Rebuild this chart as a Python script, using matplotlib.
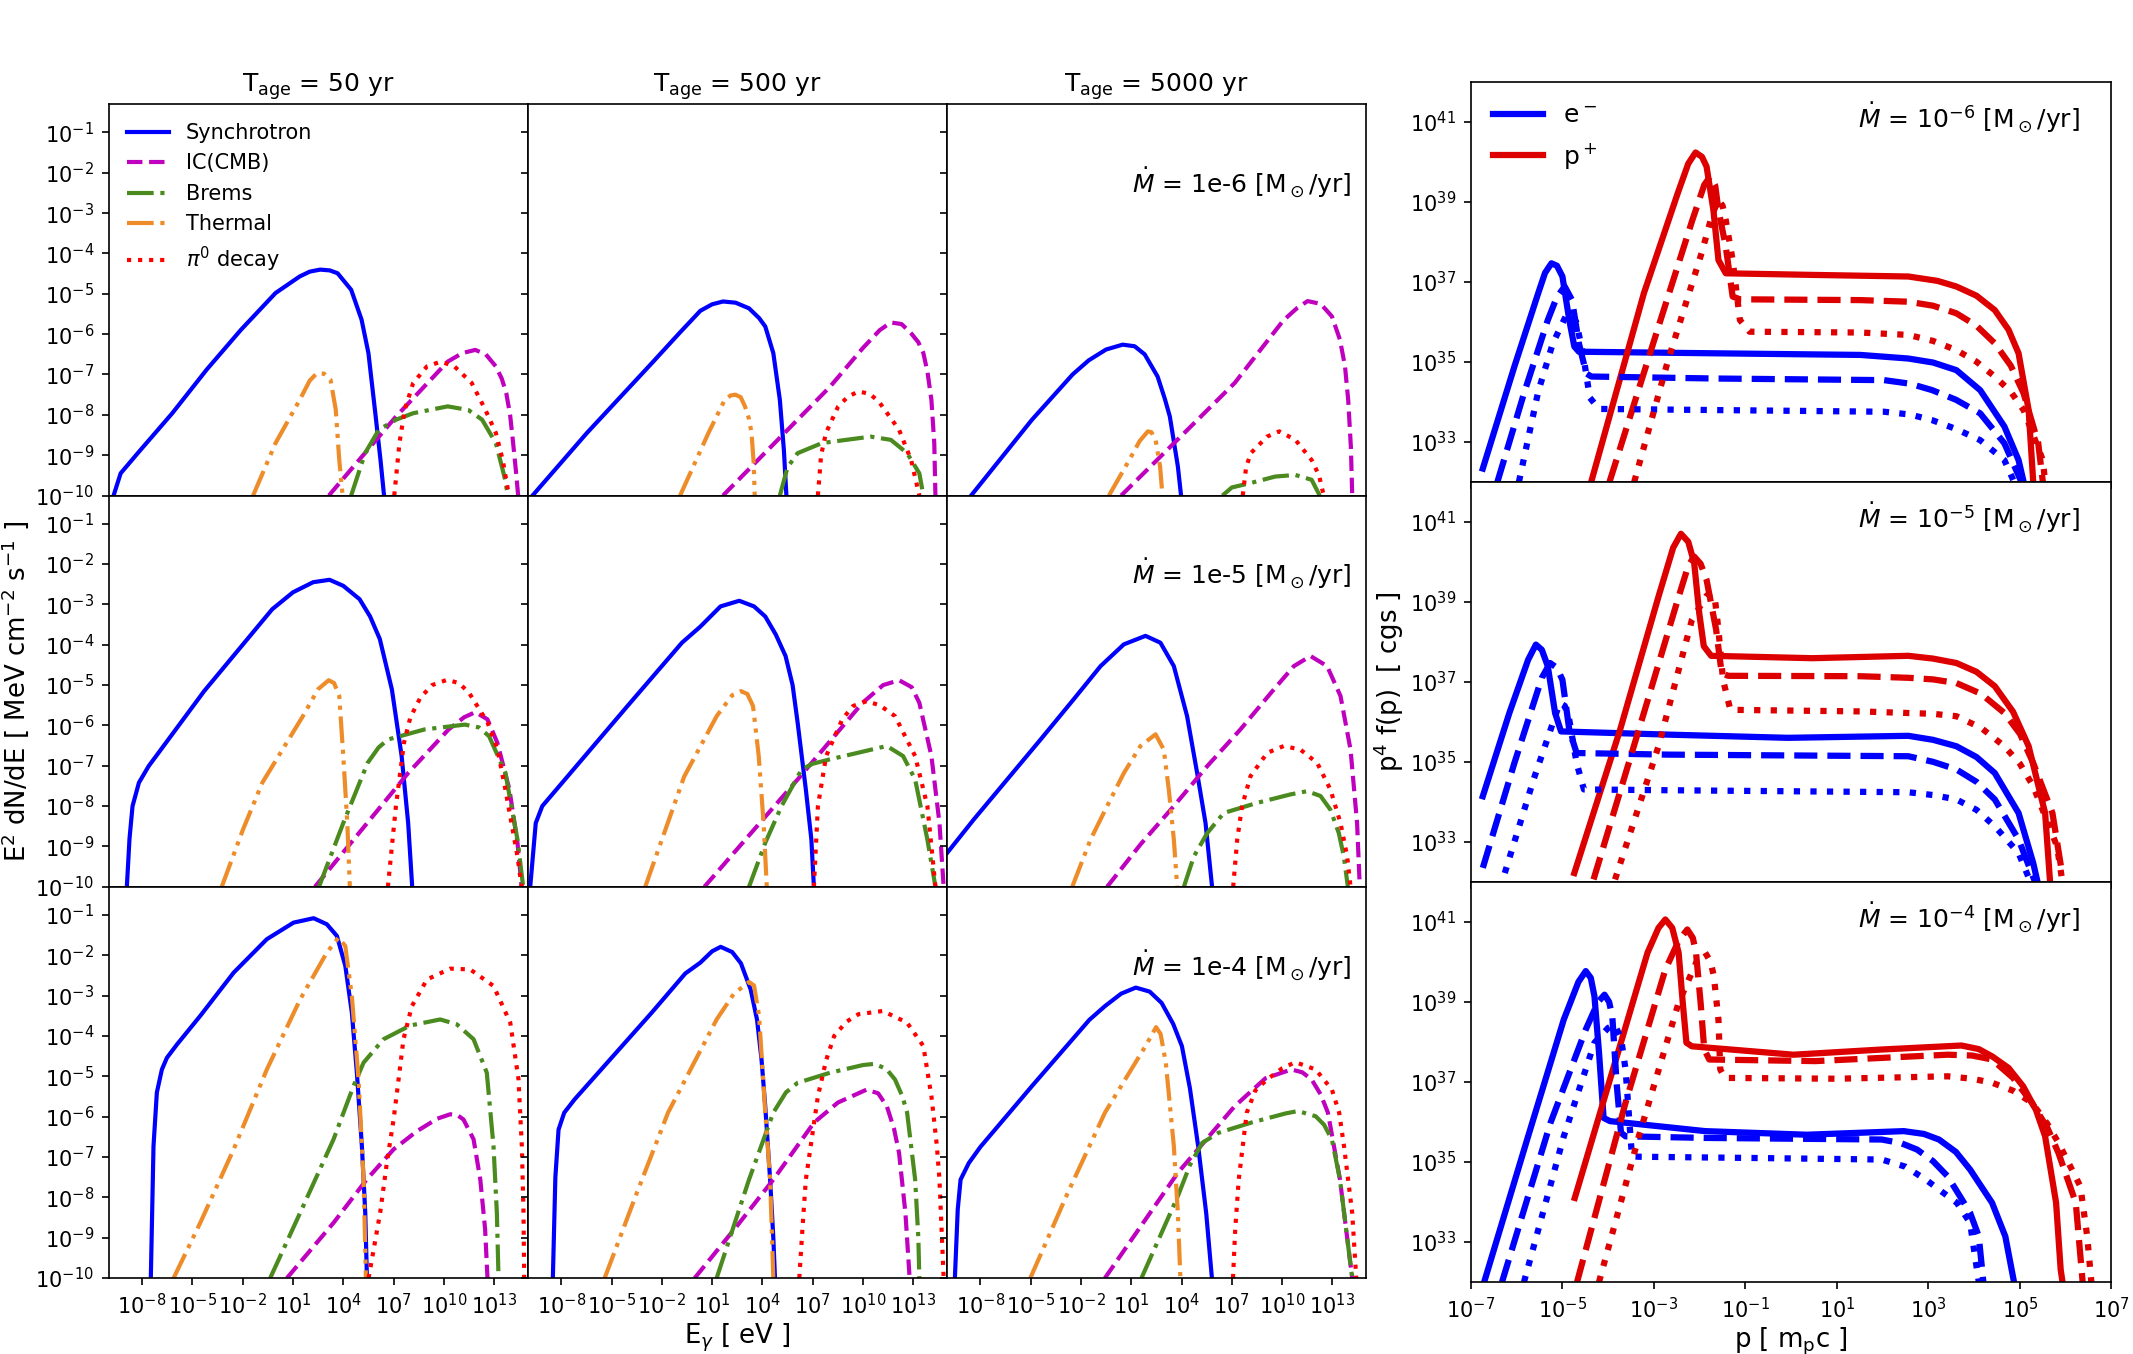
import numpy as np
import matplotlib
matplotlib.use("Agg")
import matplotlib.pyplot as plt
from matplotlib.ticker import FixedLocator, NullLocator, LogFormatterMathtext, NullFormatter
from matplotlib.lines import Line2D

# ---- photon spectra: (log10 E [eV], log10 E^2 dN/dE) ----
ages = [50, 500, 5000]
mdots = [6, 5, 4]   # Mdot = 10^-n Msun/yr

# Mdot = 1e-6
syn_6_50 = [(-9.70,-10.0),(-9.28,-9.45),(-8.26,-8.95),(-6.20,-7.96),(-4.15,-6.88),(-2.10,-5.89),(-0.04,-4.98),(1.40,-4.57),(2.0,-4.45),(2.62,-4.40),(3.2,-4.42),(3.66,-4.49),(4.47,-4.90),(5.09,-5.64),(5.50,-6.47),(5.91,-7.96),(6.22,-9.12),(6.43,-10.0)]
ic_6_50 = [(3.14,-10.0),(7.15,-8.04),(10.23,-6.68),(11.10,-6.47),(11.87,-6.39),(12.5,-6.5),(13.10,-6.80),(13.45,-7.1),(13.72,-7.46),(13.95,-8.0),(14.13,-8.70),(14.30,-9.4),(14.43,-10.0)]
brem_6_50 = [(4.47,-10.0),(5.30,-8.95),(6.12,-8.37),(7.15,-8.12),(8.17,-7.96),(10.23,-7.79),(11.46,-7.88),(12.28,-8.12),(13.10,-8.70),(13.61,-9.53),(13.82,-10.0)]
th_6_50 = [(-1.38,-10.0),(-0.04,-8.70),(1.40,-7.63),(2.0,-7.15),(2.42,-6.97),(2.85,-6.98),(3.24,-7.13),(3.55,-7.87),(3.76,-9.12),(3.96,-10.0)]
pi_6_50 = [(7.04,-10.0),(7.35,-8.70),(7.66,-7.88),(8.17,-7.21),(8.99,-6.80),(9.82,-6.68),(10.63,-6.80),(11.66,-7.21),(12.48,-7.88),(13.10,-8.45),(13.51,-9.12),(13.82,-9.86)]

syn_6_500 = [(-9.71,-10.0),(-6.47,-8.45),(-2.60,-6.72),(-0.9,-5.95),(0.3,-5.42),(1.0,-5.26),(1.65,-5.19),(2.4,-5.22),(3.2,-5.36),(3.8,-5.6),(4.17,-5.81),(4.65,-6.47),(5.04,-7.63),(5.28,-8.87),(5.43,-10.0)]
ic_6_500 = [(1.65,-10.0),(8.04,-7.30),(10.0,-6.34),(11.0,-5.9),(11.66,-5.71),(12.3,-5.75),(12.87,-5.98),(13.30,-6.2),(13.60,-6.47),(13.85,-6.95),(14.08,-7.63),(14.25,-8.7),(14.32,-10.0)]
brem_6_500 = [(5.04,-10.0),(5.5,-9.3),(6.10,-8.95),(7.55,-8.70),(10.45,-8.54),(11.66,-8.62),(12.63,-8.95),(13.36,-9.45),(13.60,-10.0)]
th_6_500 = [(-0.91,-10.0),(0.78,-8.45),(1.75,-7.63),(2.1,-7.52),(2.38,-7.50),(2.7,-7.56),(2.96,-7.79),(3.2,-8.1),(3.35,-8.45),(3.48,-9.2),(3.54,-10.0)]
pi_6_500 = [(7.31,-10.0),(7.50,-9.0),(7.79,-8.45),(8.52,-7.79),(9.10,-7.55),(9.73,-7.42),(10.4,-7.48),(10.94,-7.67),(12.15,-8.37),(12.87,-9.12),(13.36,-10.0)]

syn_6_5000 = [(-8.55,-10.0),(-4.92,-8.12),(-2.5,-7.0),(-1.54,-6.65),(-0.5,-6.38),(0.49,-6.26),(1.2,-6.3),(1.8,-6.5),(2.57,-7.05),(3.0,-7.6),(3.30,-8.04),(3.78,-9.28),(3.97,-10.0)]
ic_6_5000 = [(0.40,-10.0),(7.17,-7.21),(10.07,-5.66),(10.9,-5.35),(11.52,-5.18),(12.3,-5.25),(12.97,-5.56),(13.45,-6.14),(13.75,-6.8),(13.94,-7.63),(14.1,-8.8),(14.18,-10.0)]
brem_6_5000 = [(6.44,-10.0),(7.0,-9.8),(8.13,-9.69),(9.58,-9.53),(10.79,-9.49),(11.76,-9.61),(12.24,-10.0)]
th_6_5000 = [(-0.33,-10.0),(0.88,-9.12),(1.5,-8.65),(1.99,-8.41),(2.2,-8.43),(2.45,-8.62),(2.72,-9.28),(2.86,-10.0)]
pi_6_5000 = [(7.65,-10.0),(7.85,-9.3),(8.13,-8.95),(9.10,-8.54),(9.83,-8.41),(10.79,-8.62),(11.76,-9.12),(12.2,-9.5),(12.48,-10.0)]

# Mdot = 1e-5
syn_5_50 = [(-8.91,-10.0),(-8.75,-8.8),(-8.57,-8.00),(-8.19,-7.42),(-7.61,-7.01),(-4.3,-5.15),(-0.24,-3.12),(1.0,-2.7),(2.2,-2.45),(3.18,-2.39),(4.0,-2.54),(4.97,-2.87),(5.6,-3.3),(6.18,-3.86),(6.90,-5.11),(7.48,-6.76),(7.87,-8.42),(8.11,-10.0)]
ic_5_50 = [(2.31,-10.0),(7.87,-7.18),(10.28,-6.10),(11.2,-5.8),(11.88,-5.67),(12.6,-5.85),(13.19,-6.43),(13.91,-7.59),(14.39,-8.91),(14.64,-10.0)]
brem_5_50 = [(2.55,-10.0),(4.0,-8.42),(5.45,-6.93),(6.1,-6.55),(6.66,-6.35),(8.84,-6.10),(11.25,-5.98),(12.1,-6.05),(12.70,-6.27),(13.67,-7.18),(14.39,-8.83),(14.73,-10.0)]
th_5_50 = [(-3.25,-10.0),(-2.0,-8.6),(-0.83,-7.42),(1.59,-5.77),(2.5,-5.1),(3.13,-4.88),(3.45,-4.95),(3.76,-5.27),(4.0,-6.76),(4.24,-8.42),(4.39,-10.0)]
pi_5_50 = [(6.66,-10.0),(7.14,-8.00),(7.62,-6.43),(8.0,-5.8),(8.60,-5.31),(9.3,-5.0),(10.19,-4.87),(10.9,-4.95),(11.50,-5.19),(12.61,-5.93),(13.2,-6.6),(13.67,-7.59),(14.39,-9.25),(14.64,-10.0)]

syn_5_500 = [(-9.85,-10.0),(-9.52,-8.42),(-9.13,-8.00),(-4.05,-5.52),(-0.8,-3.95),(0.30,-3.55),(1.5,-3.05),(2.62,-2.91),(3.5,-3.05),(4.17,-3.30),(4.8,-3.75),(5.38,-4.28),(5.8,-5.0),(6.10,-5.93),(6.59,-7.59),(6.92,-8.83),(7.07,-10.0)]
ic_5_500 = [(0.54,-10.0),(6.10,-7.34),(9.97,-5.44),(11.2,-5.0),(12.15,-4.88),(12.9,-5.05),(13.36,-5.44),(14.08,-6.76),(14.56,-8.42),(14.81,-10.0)]
brem_5_500 = [(3.20,-10.0),(4.17,-8.91),(5.14,-8.00),(6.34,-7.09),(7.0,-6.95),(8.04,-6.84),(11.42,-6.51),(12.39,-6.76),(13.11,-7.34),(13.84,-8.83),(14.32,-10.0)]
th_5_500 = [(-2.99,-10.0),(-0.67,-7.27),(1.27,-5.77),(2.2,-5.25),(2.72,-5.15),(3.1,-5.22),(3.44,-5.52),(3.78,-6.76),(4.07,-8.42),(4.26,-10.0)]
pi_5_500 = [(7.07,-10.0),(7.31,-8.00),(7.80,-6.76),(8.76,-5.85),(9.4,-5.52),(10.21,-5.40),(11.0,-5.5),(11.91,-5.77),(13.11,-6.76),(13.84,-8.00),(14.32,-10.0)]

syn_5_5000 = [(-9.98,-9.16),(-8.39,-8.33),(-6.40,-7.34),(-4.41,-6.35),(-2.43,-5.35),(-0.83,-4.53),(0.56,-3.99),(1.85,-3.78),(2.74,-3.95),(3.54,-4.53),(4.33,-5.77),(4.93,-7.18),(5.43,-8.42),(5.82,-10.0)]
ic_5_5000 = [(-0.44,-10.0),(1.55,-8.95),(3.54,-8.0),(5.53,-7.01),(7.51,-6.10),(9.50,-5.11),(10.70,-4.53),(11.69,-4.28),(12.68,-4.53),(13.48,-5.27),(14.08,-6.60),(14.47,-8.42),(14.63,-10.0)]
brem_5_5000 = [(4.14,-10.0),(4.73,-9.25),(5.53,-8.67),(6.52,-8.17),(8.51,-7.92),(10.50,-7.71),(11.49,-7.63),(12.29,-7.75),(12.88,-8.09),(13.38,-8.67),(13.68,-9.25),(13.92,-10.0)]
th_5_5000 = [(-2.52,-10.0),(-1.43,-8.83),(-0.44,-8.0),(0.56,-7.18),(1.55,-6.51),(2.45,-6.22),(2.94,-6.60),(3.24,-7.59),(3.54,-8.83),(3.74,-10.0)]
pi_5_5000 = [(7.08,-10.0),(7.32,-8.83),(7.61,-8.0),(8.11,-7.26),(9.11,-6.68),(10.10,-6.51),(11.09,-6.60),(12.09,-6.93),(12.88,-7.59),(13.48,-8.42),(13.88,-9.25),(14.08,-10.0)]

# Mdot = 1e-4
syn_4_50 = [(-7.48,-10.0),(-7.32,-6.73),(-7.12,-5.40),(-6.82,-4.83),(-6.52,-4.54),(-5.92,-4.21),(-4.53,-3.50),(-2.54,-2.43),(-0.56,-1.60),(1.03,-1.19),(2.23,-1.08),(3.02,-1.23),(3.62,-1.52),(4.12,-2.26),(4.51,-3.42),(4.81,-4.91),(5.11,-6.73),(5.31,-8.38),(5.41,-10.0)]
ic_4_50 = [(0.64,-10.0),(3.42,-8.63),(5.41,-7.55),(7.0,-6.81),(8.39,-6.36),(9.6,-6.05),(10.38,-5.94),(10.8,-5.96),(11.17,-6.07),(11.77,-6.56),(12.17,-7.55),(12.46,-8.79),(12.60,-10.0)]
brem_4_50 = [(-0.36,-10.0),(1.43,-8.38),(3.42,-6.56),(4.61,-5.24),(5.21,-4.66),(6.40,-4.08),(7.99,-3.74),(9.78,-3.59),(10.77,-3.71),(11.77,-4.08),(12.56,-4.91),(12.96,-6.73),(13.16,-8.38),(13.26,-10.0)]
th_4_50 = [(-6.12,-10.0),(-4.53,-8.63),(-2.54,-6.81),(-0.56,-4.83),(1.43,-3.09),(3.02,-1.93),(3.72,-1.56),(4.12,-1.77),(4.51,-3.01),(4.91,-5.07),(5.21,-7.55),(5.35,-10.0)]
pi_4_50 = [(5.51,-10.0),(6.20,-8.38),(6.60,-7.14),(7.0,-6.07),(7.30,-5.07),(7.59,-4.08),(8.09,-3.26),(8.99,-2.60),(10.38,-2.33),(11.57,-2.35),(12.96,-2.76),(13.96,-3.67),(14.45,-5.07),(14.65,-6.73),(14.75,-8.38),(14.79,-10.0)]

syn_4_500 = [(-8.50,-10.0),(-8.35,-7.5),(-8.16,-6.32),(-7.82,-5.90),(-7.20,-5.57),(-2.60,-3.42),(-0.6,-2.45),(0.30,-2.18),(1.0,-1.9),(1.51,-1.79),(2.2,-1.92),(2.72,-2.20),(3.3,-2.85),(3.68,-3.6),(3.95,-4.6),(4.17,-5.75),(4.46,-7.56),(4.65,-9.0),(4.75,-10.0)]
ic_4_500 = [(-0.04,-10.0),(2.5,-8.7),(4.65,-7.56),(7.07,-6.15),(8.5,-5.65),(10.21,-5.33),(10.9,-5.42),(11.42,-5.74),(11.85,-6.3),(12.15,-6.9),(12.53,-8.39),(12.78,-10.0)]
brem_4_500 = [(1.27,-10.0),(3.20,-7.56),(4.65,-5.90),(5.4,-5.4),(6.10,-5.16),(8.04,-4.91),(10.0,-4.72),(10.70,-4.69),(11.4,-4.82),(11.91,-5.08),(12.35,-5.5),(12.63,-5.90),(13.11,-7.56),(13.30,-9.0),(13.36,-10.0)]
th_4_500 = [(-5.41,-10.0),(-3.5,-7.9),(-1.63,-5.90),(1.27,-3.59),(2.3,-2.95),(3.20,-2.66),(3.5,-2.75),(3.8,-3.5),(4.17,-5.90),(4.46,-7.56),(4.65,-10.0)]
pi_4_500 = [(6.20,-10.0),(6.40,-8.7),(6.59,-7.56),(7.31,-5.49),(7.8,-4.6),(8.28,-4.0),(9.0,-3.65),(9.73,-3.46),(11.18,-3.38),(12.63,-3.67),(13.60,-4.25),(14.08,-5.49),(14.40,-6.7),(14.56,-7.56),(14.81,-10.0)]

syn_4_5000 = [(-9.52,-10.0),(-9.35,-8.3),(-9.18,-7.56),(-8.69,-7.15),(-8.0,-6.75),(-4.92,-5.24),(-1.5,-3.6),(-0.57,-3.26),(0.4,-2.95),(1.27,-2.80),(2.1,-2.9),(2.81,-3.18),(3.5,-3.7),(4.02,-4.25),(4.5,-5.3),(4.99,-6.73),(5.47,-8.39),(5.81,-10.0)]
ic_4_5000 = [(-0.57,-10.0),(3.78,-7.39),(7.17,-5.74),(9.0,-5.05),(10.55,-4.83),(11.2,-4.9),(11.76,-5.08),(12.3,-5.45),(12.73,-5.90),(13.45,-7.56),(13.94,-9.21),(14.18,-10.0)]
brem_4_5000 = [(1.61,-10.0),(3.78,-7.97),(4.5,-7.2),(5.23,-6.65),(6.20,-6.40),(8.13,-6.15),(10.2,-5.92),(10.94,-5.86),(12.00,-5.99),(12.5,-6.2),(12.97,-6.57),(13.45,-7.56),(13.94,-9.21),(14.18,-10.0)]
th_4_5000 = [(-5.02,-10.0),(-2.8,-7.9),(-0.57,-5.90),(1.85,-4.25),(2.48,-3.78),(2.75,-3.95),(3.06,-4.66),(3.54,-6.73),(3.78,-8.39),(3.93,-10.0)]
pi_4_5000 = [(7.07,-10.0),(7.2,-8.8),(7.41,-7.56),(7.89,-5.90),(8.4,-5.35),(9.10,-5.08),(10.0,-4.8),(10.79,-4.65),(12.0,-4.83),(12.97,-5.33),(13.4,-5.9),(13.69,-6.73),(14.18,-8.39),(14.42,-10.0)]

# ---- particle spectra: (log10 p [m_p c], log10 p^4 f(p)) ----
e_6_50 = [(-6.74,32.33),(-6.05,34.88),(-5.53,36.71),(-5.38,37.22),(-5.24,37.46),(-5.12,37.40),(-5.00,37.13),(-4.85,36.04),(-4.74,35.38),(-4.64,35.25),(-1.64,35.21),(1.51,35.17),(2.56,35.08),(3.1,34.98),(3.61,34.79),(4.13,34.29),(4.66,33.38),(4.97,32.54),(5.08,32.0)]
e_6_500 = [(-6.42,32.0),(-5.84,34.21),(-5.32,36.04),(-5.12,36.62),(-4.95,36.88),(-4.79,36.54),(-4.64,35.46),(-4.48,34.71),(-4.37,34.63),(-1.64,34.58),(2.03,34.54),(2.6,34.45),(3.08,34.29),(3.6,34.05),(4.13,33.71),(4.66,32.96),(5.03,32.0)]
e_6_5000 = [(-5.95,32.0),(-5.53,34.25),(-5.21,35.46),(-4.90,36.2),(-4.70,36.0),(-4.55,35.2),(-4.40,34.1),(-4.20,33.82),(-0.59,33.78),(2.03,33.75),(2.6,33.68),(3.08,33.54),(3.6,33.32),(4.13,33.04),(4.66,32.54),(4.87,32.0)]
p_6_50 = [(-4.37,32.0),(-3.22,36.71),(-2.48,39.21),(-2.25,39.95),(-2.09,40.23),(-1.95,40.12),(-1.85,39.88),(-1.70,38.79),(-1.59,37.54),(-1.43,37.21),(0.46,37.17),(2.56,37.13),(3.2,37.02),(3.61,36.88),(4.05,36.65),(4.45,36.29),(4.75,35.8),(4.97,35.21),(5.19,33.79),(5.29,32.0)]
p_6_500 = [(-3.97,32.0),(-2.90,35.88),(-2.16,38.54),(-1.90,39.42),(-1.77,39.63),(-1.66,39.40),(-1.59,38.79),(-1.43,37.88),(-1.28,36.63),(-1.12,36.56),(1.51,36.54),(2.56,36.50),(3.1,36.4),(3.61,36.21),(4.05,35.9),(4.45,35.46),(4.8,34.9),(5.08,34.21),(5.40,32.96),(5.50,32.0)]
p_6_5000 = [(-3.43,32.0),(-2.69,35.04),(-1.96,37.71),(-1.72,38.7),(-1.59,39.04),(-1.50,38.9),(-1.43,38.54),(-1.28,37.54),(-1.12,36.04),(-0.91,35.75),(1.51,35.73),(2.56,35.67),(3.1,35.52),(3.61,35.29),(4.05,35.0),(4.45,34.63),(4.8,34.25),(5.08,33.79),(5.50,32.54),(5.55,32.0)]

e_5_50 = [(-6.74,34.14),(-6.16,36.22),(-5.75,37.55),(-5.58,37.93),(-5.45,37.8),(-5.32,37.39),(-5.16,36.22),(-5.03,35.76),(-2.69,35.68),(-0.07,35.60),(2.56,35.65),(3.1,35.55),(3.61,35.39),(4.05,35.12),(4.45,34.72),(4.97,33.72),(5.29,32.47),(5.39,31.97)]
e_5_500 = [(-6.74,32.35),(-6.05,34.97),(-5.45,37.1),(-5.27,37.47),(-5.12,37.35),(-5.0,37.05),(-4.85,35.80),(-4.69,35.22),(-2.69,35.18),(2.56,35.14),(3.1,35.0),(3.61,34.81),(4.05,34.5),(4.45,34.06),(4.97,33.06),(5.34,31.97)]
e_5_5000 = [(-6.26,32.22),(-5.63,34.56),(-5.06,36.47),(-4.95,36.4),(-4.85,36.05),(-4.69,34.97),(-4.53,34.31),(-2.69,34.29),(2.56,34.24),(3.1,34.17),(3.61,34.06),(4.05,33.8),(4.45,33.39),(4.97,32.72),(5.24,31.97)]
p_5_50 = [(-4.74,32.22),(-3.74,35.80),(-2.90,39.13),(-2.58,40.35),(-2.41,40.70),(-2.25,40.5),(-2.12,39.97),(-2.01,38.72),(-1.91,37.89),(-1.75,37.65),(0.46,37.59),(2.56,37.65),(3.1,37.58),(3.61,37.47),(4.05,37.25),(4.45,36.89),(4.85,36.25),(5.19,35.39),(5.55,33.72),(5.66,31.97)]
p_5_500 = [(-4.32,32.06),(-3.22,36.22),(-2.48,39.05),(-2.25,39.9),(-2.12,40.13),(-1.98,39.95),(-1.85,39.55),(-1.64,38.30),(-1.52,37.22),(-1.38,37.15),(1.51,37.14),(2.56,37.10),(3.1,37.06),(3.61,36.97),(4.15,36.7),(4.66,36.22),(5.0,35.7),(5.29,34.97),(5.71,33.72),(5.92,32.22)]
p_5_5000 = [(-3.85,32.06),(-2.90,35.39),(-2.17,38.55),(-1.85,39.15),(-1.75,39.22),(-1.66,39.0),(-1.59,38.30),(-1.49,37.05),(-1.33,36.30),(1.51,36.26),(2.56,36.22),(3.1,36.2),(3.61,36.14),(4.15,35.85),(4.66,35.39),(5.0,34.95),(5.29,34.39),(5.81,32.89),(5.92,32.06)]

e_4_50 = [(-6.71,32.0),(-5.75,35.64),(-4.97,38.56),(-4.65,39.5),(-4.49,39.77),(-4.38,39.6),(-4.30,39.14),(-4.20,37.73),(-4.10,36.10),(-3.96,36.02),(-1.88,35.77),(0.34,35.68),(2.46,35.77),(2.9,35.7),(3.23,35.56),(3.6,35.25),(3.91,34.81),(4.39,33.98),(4.68,33.14),(4.87,32.0)]
e_4_500 = [(-6.32,32.0),(-5.26,35.98),(-4.49,38.31),(-4.22,39.0),(-4.08,39.18),(-3.98,39.0),(-3.91,38.64),(-3.81,36.89),(-3.72,35.73),(-3.62,35.64),(-1.88,35.60),(1.98,35.56),(2.4,35.47),(2.75,35.31),(3.1,35.02),(3.42,34.64),(3.91,33.73),(4.10,33.14),(4.20,32.0)]
e_4_5000 = [(-5.84,32.0),(-4.97,35.64),(-4.30,37.98),(-4.0,38.35),(-3.86,38.43),(-3.72,38.1),(-3.62,37.31),(-3.48,35.14),(-3.33,35.13),(-0.92,35.10),(1.98,35.06),(2.5,34.88),(2.94,34.56),(3.3,34.25),(3.62,33.98),(3.91,33.48),(4.10,32.0)]
p_4_50 = [(-4.73,34.10),(-3.81,37.64),(-3.14,40.23),(-2.9,40.85),(-2.75,41.06),(-2.6,40.85),(-2.46,40.23),(-2.37,38.98),(-2.29,37.98),(-2.17,37.89),(0.05,37.68),(1.98,37.81),(3.72,37.91),(4.1,37.82),(4.39,37.64),(4.75,37.35),(5.07,36.89),(5.35,36.3),(5.55,35.64),(5.79,33.98),(5.89,32.31),(5.93,32.0)]
p_4_500 = [(-4.68,32.0),(-3.62,36.48),(-2.75,39.81),(-2.45,40.55),(-2.27,40.81),(-2.15,40.6),(-2.08,40.23),(-1.98,38.98),(-1.90,37.81),(-1.79,37.56),(0.53,37.52),(3.42,37.68),(3.95,37.66),(4.39,37.56),(4.85,37.1),(5.26,36.48),(5.6,35.85),(5.84,35.23),(6.22,33.98),(6.37,32.0)]
p_4_5000 = [(-4.20,32.0),(-3.33,35.64),(-2.46,38.98),(-2.05,40.05),(-1.88,40.23),(-1.76,40.0),(-1.69,39.64),(-1.59,38.56),(-1.55,37.31),(-1.45,37.10),(1.01,37.08),(3.42,37.14),(3.95,37.08),(4.39,36.98),(4.85,36.78),(5.26,36.48),(5.6,35.95),(5.84,35.48),(6.32,34.39),(6.47,33.14),(6.56,32.0)]

g = globals()


def xy(pts):
    a = np.array(pts)
    return 10 ** a[:, 0], 10 ** a[:, 1]


comps = ['syn', 'ic', 'brem', 'th', 'pi']
labels = ['Synchrotron', 'IC(CMB)', 'Brems', 'Thermal', r'$\pi^0$ decay']
colors = ['#0000ff', '#bf00bf', '#4a8a1e', '#ee8c2a', '#ff0000']
styles = ['-', '--', '-.', (0, (6.4, 1.6, 1, 1.6, 1, 1.6)), ':']

fig = plt.figure(figsize=(2133 / 150, 1354 / 150), dpi=150)
gsL = fig.add_gridspec(3, 3, left=0.0509, right=0.6404, top=0.9230, bottom=0.0561, wspace=0, hspace=0)
gsR = fig.add_gridspec(3, 1, left=0.6896, right=0.9899, top=0.9397, bottom=0.0532, hspace=0)

for i, m in enumerate(mdots):
    for j, age in enumerate(ages):
        ax = fig.add_subplot(gsL[i, j])
        for c, lab, col, ls in zip(comps, labels, colors, styles):
            x, y = xy(g['%s_%d_%d' % (c, m, age)])
            ax.plot(x, y, color=col, ls=ls, lw=2, label=lab)
        ax.set_xscale('log')
        ax.set_yscale('log')
        ax.set_xlim(1e-10, 1e15)
        ax.set_ylim(1e-10, 0.5)
        ax.xaxis.set_major_locator(FixedLocator([1e-8, 1e-5, 1e-2, 1e1, 1e4, 1e7, 1e10, 1e13]))
        ax.yaxis.set_major_locator(FixedLocator(10.0 ** np.arange(-10, 0)))
        ax.xaxis.set_minor_locator(NullLocator())
        ax.yaxis.set_minor_locator(NullLocator())
        ax.xaxis.set_major_formatter(LogFormatterMathtext() if i == 2 else NullFormatter())
        ax.yaxis.set_major_formatter(LogFormatterMathtext() if j == 0 else NullFormatter())
        ax.tick_params(labelsize=10)
        if i == 0:
            ax.set_title(r'T$_{\rm age}$ = %d yr' % age, fontsize=12)
        if i == 0 and j == 0:
            ax.legend(loc='upper left', frameon=False, fontsize=10)
        if j == 2:
            ax.text(0.965, 0.8, r'$\dot{M}$ = 1e-%d [M$_\odot$/yr]' % m, transform=ax.transAxes,
                    ha='right', va='center', fontsize=12)
        if i == 2 and j == 1:
            ax.set_xlabel(r'E$_\gamma$ [ eV ]', fontsize=12.5, labelpad=2)
        if i == 1 and j == 0:
            ax.set_ylabel(r'E$^2$ dN/dE [ MeV cm$^{-2}$ s$^{-1}$ ]', fontsize=12.5, labelpad=2)

pstyles = ['-', '--', ':']
for i, m in enumerate(mdots):
    ax = fig.add_subplot(gsR[i, 0])
    for age, ls in zip(ages, pstyles):
        x, y = xy(g['e_%d_%d' % (m, age)])
        ax.plot(x, y, color='#0000ff', ls=ls, lw=3)
        x, y = xy(g['p_%d_%d' % (m, age)])
        ax.plot(x, y, color='#dd0000', ls=ls, lw=3)
    ax.set_xscale('log')
    ax.set_yscale('log')
    ax.set_xlim(1e-7, 1e7)
    ax.set_ylim(1e32, 1e42)
    ax.xaxis.set_major_locator(FixedLocator(10.0 ** np.arange(-7, 8, 2)))
    ax.yaxis.set_major_locator(FixedLocator(10.0 ** np.arange(33, 42, 2)))
    ax.xaxis.set_minor_locator(NullLocator())
    ax.yaxis.set_minor_locator(NullLocator())
    ax.xaxis.set_major_formatter(LogFormatterMathtext() if i == 2 else NullFormatter())
    ax.yaxis.set_major_formatter(LogFormatterMathtext())
    ax.tick_params(labelsize=10)
    ax.text(0.95, 0.91, r'$\dot{M}$ = 10$^{-%d}$ [M$_\odot$/yr]' % m, transform=ax.transAxes,
            ha='right', va='center', fontsize=12)
    if i == 0:
        h = [Line2D([], [], color='#0000ff', lw=3), Line2D([], [], color='#dd0000', lw=3)]
        ax.legend(h, [r'e$^-$', r'p$^+$'], loc='upper left', frameon=False, fontsize=12)
    if i == 1:
        ax.set_ylabel(r'p$^4$ f(p)  [ cgs ]', fontsize=12.5, labelpad=2)
    if i == 2:
        ax.set_xlabel(r'p [ m$_{\rm p}$c ]', fontsize=12.5, labelpad=2)

fig.savefig('out.png', dpi=150)
